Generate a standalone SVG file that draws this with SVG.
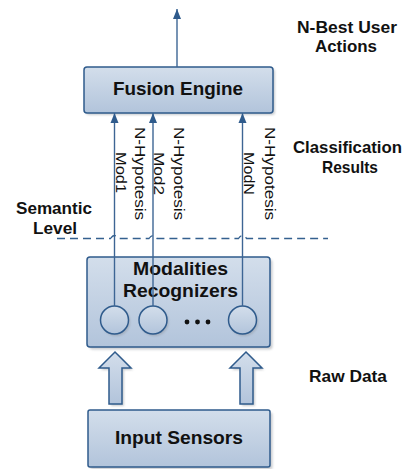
<svg xmlns="http://www.w3.org/2000/svg" width="408" height="469" viewBox="0 0 408 469">
<style>
.box{fill:url(#g);stroke:#2f5b8c;stroke-width:1.5}
.sh{fill:#8a8f96;opacity:0.45;filter:url(#blur)}
.lbl{font-family:"Liberation Sans",Arial,sans-serif;font-weight:bold;fill:#111;text-anchor:middle}
.rt{font-family:"Liberation Sans",Arial,sans-serif;font-size:15px;fill:#111;text-anchor:middle}
.cn{stroke:#3d6594;stroke-width:1.4;fill:none}
.dash{stroke:#34608f;stroke-width:1.3;fill:none;stroke-dasharray:8 5}
</style>
<defs>
<linearGradient id="g" x1="0" y1="0" x2="0" y2="1">
<stop offset="0" stop-color="#d3deeb"/>
<stop offset="1" stop-color="#b2c4db"/>
</linearGradient>
<filter id="blur" x="-20%" y="-20%" width="140%" height="140%"><feGaussianBlur stdDeviation="1"/></filter>
<marker id="ah" markerUnits="userSpaceOnUse" markerWidth="10" markerHeight="10" viewBox="0 0 10 10" refX="10" refY="5" orient="auto">
<path d="M0,1 L10,5 L0,9 z" fill="#2f5b8c"/>
</marker>
</defs>

<g id="fusion-engine">
<rect class="sh" x="86" y="69" width="189" height="46" rx="3"/>
<rect class="box" x="84" y="67" width="189" height="46" rx="3"/>
<text class="lbl" x="178" y="95" font-size="18" textLength="130" lengthAdjust="spacingAndGlyphs">Fusion Engine</text>
</g>

<g id="modalities-recognizers">
<rect class="sh" x="89.5" y="259.5" width="183" height="90" rx="3"/>
<rect class="box" x="87" y="257" width="183" height="90" rx="3"/>
<text class="lbl" x="180.5" y="275" font-size="19" textLength="95" lengthAdjust="spacingAndGlyphs">Modalities</text>
<text class="lbl" x="180.5" y="297" font-size="19" textLength="115" lengthAdjust="spacingAndGlyphs">Recognizers</text>
<g id="mod1"><circle cx="116" cy="322" r="14" fill="#8a8f96" opacity="0.45" filter="url(#blur)"/><circle class="box" cx="114.5" cy="320" r="14"/></g>
<g id="mod2"><circle cx="154.5" cy="322" r="14" fill="#8a8f96" opacity="0.45" filter="url(#blur)"/><circle class="box" cx="153" cy="320" r="14"/></g>
<g id="modN"><circle cx="244" cy="322" r="14" fill="#8a8f96" opacity="0.45" filter="url(#blur)"/><circle class="box" cx="242.5" cy="320" r="14"/></g>
<circle cx="187" cy="322" r="2.4" fill="#111"/>
<circle cx="197.5" cy="322" r="2.4" fill="#111"/>
<circle cx="208" cy="322" r="2.4" fill="#111"/>
</g>

<g id="input-sensors">
<rect class="sh" x="90.5" y="412.5" width="182" height="57" rx="2"/>
<rect class="box" x="88" y="410" width="182" height="57" rx="2"/>
<text class="lbl" x="179" y="444" font-size="18.5" textLength="128" lengthAdjust="spacingAndGlyphs">Input Sensors</text>
</g>

<g id="raw-data-arrows">
<path class="sh" d="M117,354 L133,370 L124,370 L124,406 L111,406 L111,370 L101,370 Z"/>
<path class="box" d="M115,352 L131,368 L122,368 L122,404 L109,404 L109,368 L99,368 Z"/>
<path class="sh" d="M248,354 L264,370 L255,370 L255,406 L242,406 L242,370 L232,370 Z"/>
<path class="box" d="M246,352 L262,368 L253,368 L253,404 L240,404 L240,368 L230,368 Z"/>
</g>

<g id="connectors">
<line class="cn" x1="177" y1="67" x2="177" y2="9" marker-end="url(#ah)"/>
<line class="cn" x1="114.5" y1="306" x2="114.5" y2="113" marker-end="url(#ah)"/>
<line class="cn" x1="153" y1="306" x2="153" y2="113" marker-end="url(#ah)"/>
<line class="cn" x1="242.5" y1="306" x2="242.5" y2="113" marker-end="url(#ah)"/>
<path class="dash" d="M57,238.5 H110.5 Q114.5,232.5 118.5,238.5 H149 Q153,232.5 157,238.5 H238.5 Q242.5,232.5 246.5,238.5 H328"/>
</g>

<g id="connector-labels">
<text class="rt" transform="translate(135,173.5) rotate(90)" textLength="93" lengthAdjust="spacingAndGlyphs">N-Hypotesis</text>
<text class="rt" transform="translate(115.5,172.5) rotate(90)" textLength="41" lengthAdjust="spacingAndGlyphs">Mod1</text>
<text class="rt" transform="translate(173.5,173.5) rotate(90)" textLength="93" lengthAdjust="spacingAndGlyphs">N-Hypotesis</text>
<text class="rt" transform="translate(153.5,173.5) rotate(90)" textLength="43" lengthAdjust="spacingAndGlyphs">Mod2</text>
<text class="rt" transform="translate(264.5,173.5) rotate(90)" textLength="93" lengthAdjust="spacingAndGlyphs">N-Hypotesis</text>
<text class="rt" transform="translate(243.5,173.5) rotate(90)" textLength="43" lengthAdjust="spacingAndGlyphs">ModN</text>
</g>

<g id="annotations">
<text class="lbl" x="347" y="33" font-size="16.5" textLength="100" lengthAdjust="spacingAndGlyphs">N-Best User</text>
<text class="lbl" x="346" y="52" font-size="16.5" textLength="62" lengthAdjust="spacingAndGlyphs">Actions</text>
<text class="lbl" x="347.5" y="153" font-size="16.5" textLength="109" lengthAdjust="spacingAndGlyphs">Classification</text>
<text class="lbl" x="350" y="173" font-size="16.5" textLength="56" lengthAdjust="spacingAndGlyphs">Results</text>
<text class="lbl" x="54" y="214" font-size="16" textLength="76" lengthAdjust="spacingAndGlyphs">Semantic</text>
<text class="lbl" x="55" y="234" font-size="16" textLength="44" lengthAdjust="spacingAndGlyphs">Level</text>
<text class="lbl" x="348" y="382" font-size="16.5" textLength="78" lengthAdjust="spacingAndGlyphs">Raw Data</text>
</g>
</svg>
